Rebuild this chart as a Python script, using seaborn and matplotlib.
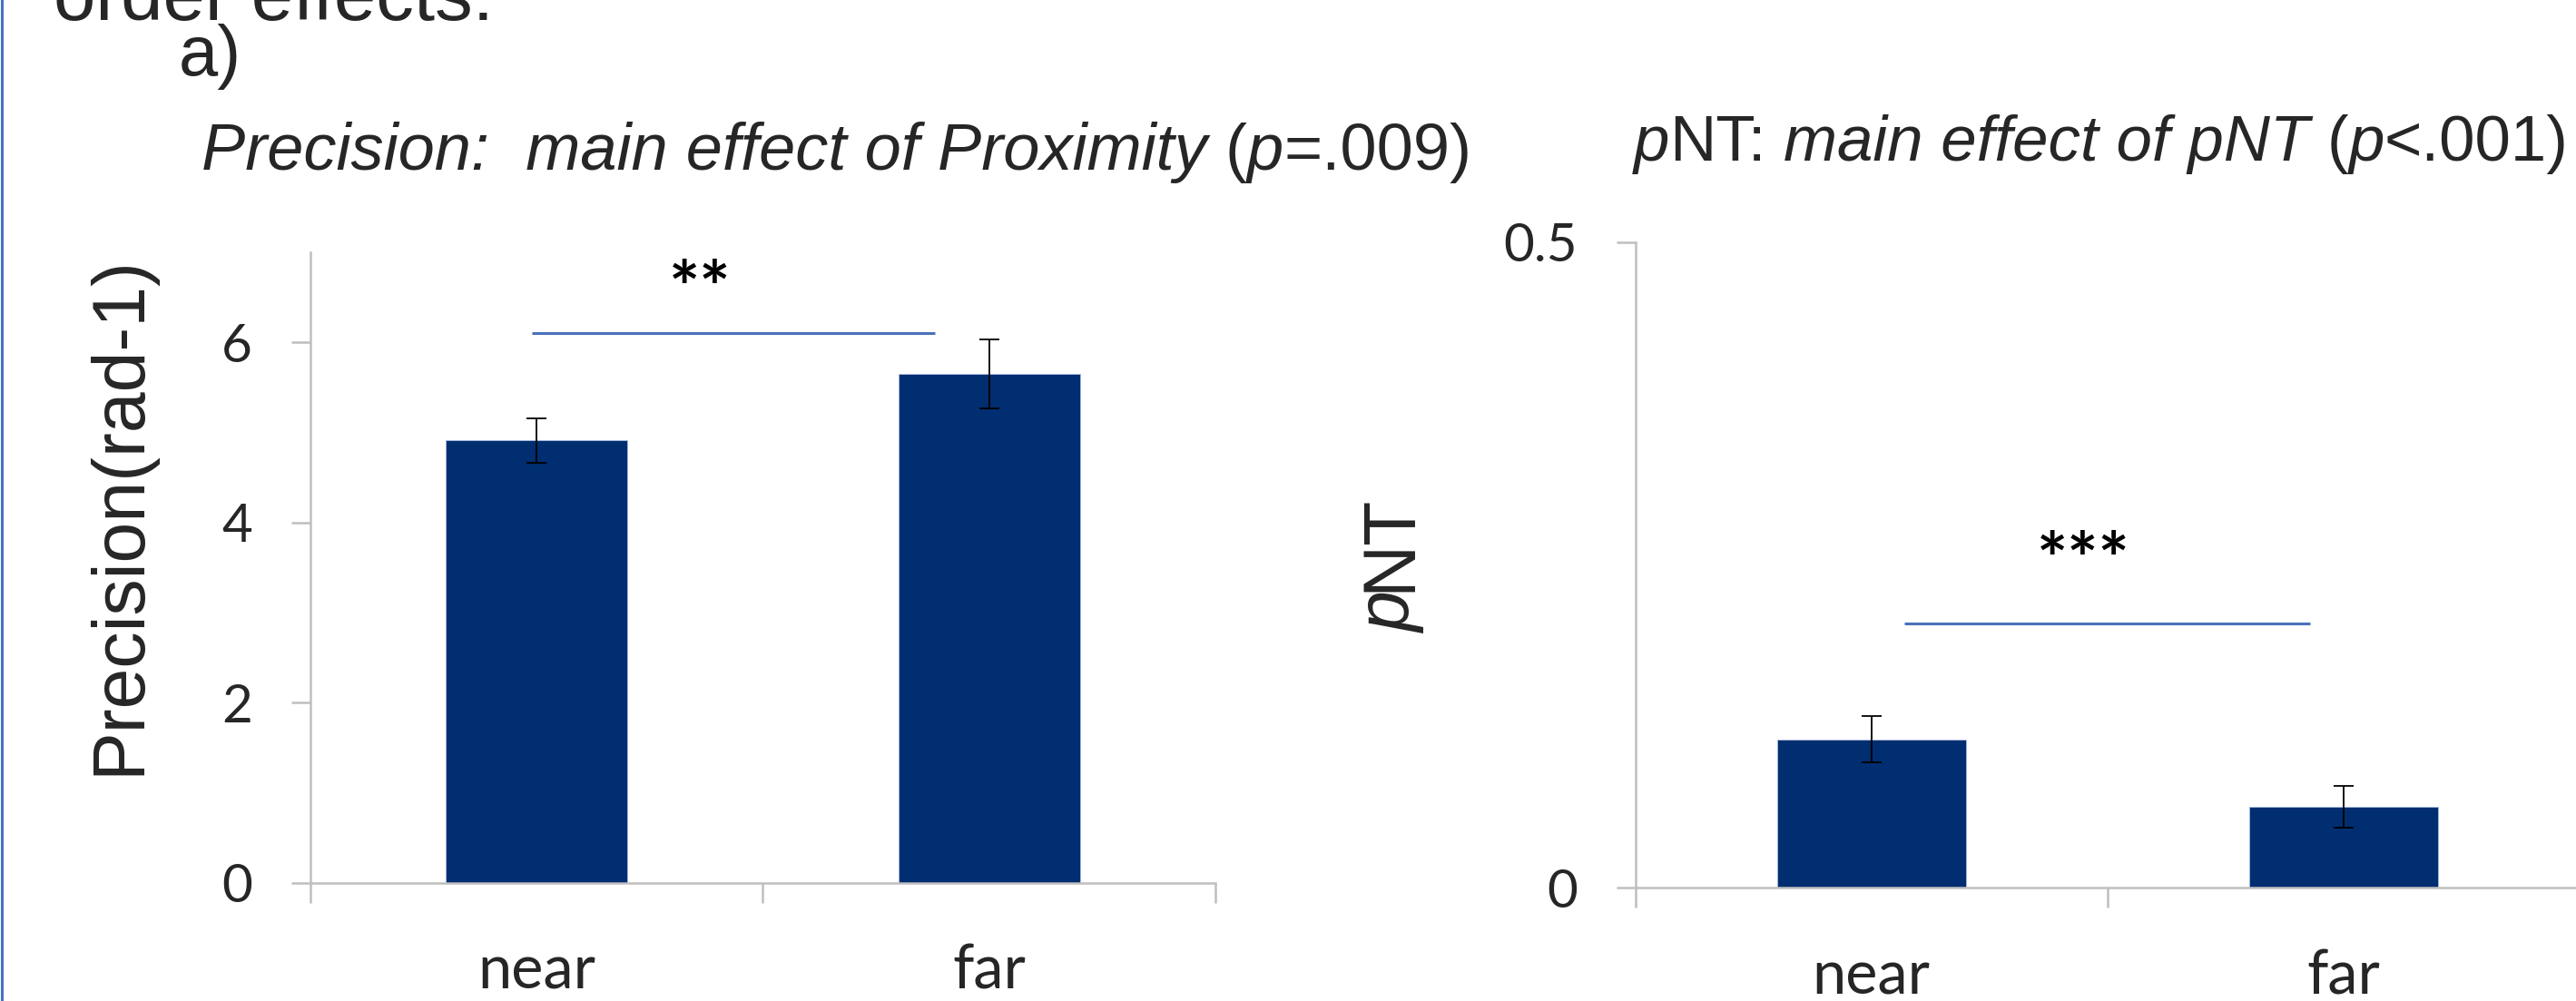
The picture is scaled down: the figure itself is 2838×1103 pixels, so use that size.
import numpy as np
import pandas as pd
import matplotlib
matplotlib.use("Agg")
import matplotlib.pyplot as plt
import seaborn as sns
from matplotlib.lines import Line2D

# values
categories = ["near", "far"]
precision_mean = [4.91, 5.65]
precision_sem = [0.25, 0.38]
pnt_mean = [0.115, 0.063]
pnt_sem = [0.018, 0.016]

# significance brackets: (x start, x end, height) and the stars (text, x, baseline)
precision_sig = (-0.01, 0.88, 6.10)
precision_stars = ("**", 0.36, 6.31)
pnt_sig = (0.07, 0.93, 0.205)
pnt_stars = ("***", 0.45, 0.234)

precision_ticks = [0, 2, 4, 6]
pnt_ticks = [0, 0.5]
pnt_ticklabels = ["0", "0.5"]

BAR = "#002E70"
AXIS = "#BFBFBF"
SIG = "#4A72B8"
TITLE_FONT = ["Liberation Sans", "DejaVu Sans"]
TICK_FONT = ["Lato", "DejaVu Sans"]

sns.set_style("white")
plt.rcParams["font.family"] = TITLE_FONT


def style_axis(ax, ylim, ticks, ticklabels=None):
    ax.set_xlim(-0.5, 1.5)
    ax.set_ylim(*ylim)
    ax.set_yticks(ticks)
    if ticklabels is not None:
        ax.set_yticklabels(ticklabels)
    ax.set_xticks([0, 1])
    ax.set_xticklabels(categories)
    ax.set_xticks([-0.5, 0.5, 1.5], minor=True)
    for side in ["top", "right"]:
        ax.spines[side].set_visible(False)
    for side in ["left", "bottom"]:
        ax.spines[side].set_color(AXIS)
        ax.spines[side].set_linewidth(1.8)
    ax.tick_params(axis="y", which="major", direction="out", length=15, width=1.8,
                   color=AXIS, pad=31, labelsize=42, left=True)
    ax.tick_params(axis="x", which="major", length=0, pad=48, labelsize=48)
    ax.tick_params(axis="x", which="minor", direction="out", length=16, width=1.8,
                   color=AXIS, bottom=True)
    for lab in ax.get_xticklabels() + ax.get_yticklabels():
        lab.set_family(TICK_FONT)
    ax.set_xlabel("")


def bar_panel(ax, means, sems, name):
    df = pd.DataFrame({"proximity": categories, name: means})
    sns.barplot(data=df, x="proximity", y=name, ax=ax, color=BAR, width=0.4,
                errorbar=None, saturation=1, edgecolor="#A9BCE0", linewidth=0.6)
    ax.errorbar(x=np.arange(len(categories)), y=means, yerr=sems, fmt="none",
                ecolor="black", elinewidth=1.3, capsize=8, capthick=1.3)


def sig_mark(ax, line, stars):
    x0, x1, h = line
    ax.plot([x0, x1], [h, h], color=SIG, lw=2.2, solid_capstyle="butt")
    ax.text(stars[1], stars[2], stars[0], ha="center", va="baseline",
            fontsize=58, family=TICK_FONT, fontweight="bold", color="black")


def rich_text(fig, x, y, parts, size):
    # draw a line of text made of italic / normal pieces, side by side
    renderer = fig.canvas.get_renderer()
    W = fig.bbox.width
    px = x * W
    for txt, style in parts:
        lead = len(txt) - len(txt.lstrip(" "))
        trail = len(txt) - len(txt.rstrip(" "))
        core = txt.strip(" ")
        a = fig.text(0, 0, "a a", fontsize=size, style=style)
        b = fig.text(0, 0, "aa", fontsize=size, style=style)
        sp = a.get_window_extent(renderer).width - b.get_window_extent(renderer).width
        a.remove()
        b.remove()
        px += lead * sp
        t = fig.text(px / W, y, core, fontsize=size, style=style, va="baseline", ha="left")
        px = t.get_window_extent(renderer).x1 + trail * sp


fig = plt.figure(figsize=(28.38, 11.03), dpi=100)
ax1 = fig.add_axes([0.1204, 0.118, 0.3515, 0.630])
ax2 = fig.add_axes([0.6348, 0.1129, 0.3665, 0.6453])

bar_panel(ax1, precision_mean, precision_sem, "precision")
style_axis(ax1, (0, 7), precision_ticks)
sig_mark(ax1, precision_sig, precision_stars)
ax1.set_ylabel("Precision(rad-1)", fontsize=58, rotation_mode="default", va="center")
ax1.yaxis.set_label_coords(-0.210, 0.583)

bar_panel(ax2, pnt_mean, pnt_sem, "pnt")
style_axis(ax2, (0, 0.5), pnt_ticks, pnt_ticklabels)
sig_mark(ax2, pnt_sig, pnt_stars)
ax2.set_ylabel("")

# y label "pNT" with an italic p, reading bottom to top
renderer = fig.canvas.get_renderer()
nt = fig.text(0.540, 0.506, "NT", fontsize=58, rotation=90, ha="center", va="top")
nt_box = nt.get_window_extent(renderer)
fig.text(0.540, nt_box.y0 / fig.bbox.height, "p", fontsize=58, rotation=90,
         style="italic", ha="center", va="top")

# headings
fig.text(0.0208, 0.980, "order effects:", fontsize=60, va="baseline")
fig.text(0.0694, 0.9248, "a)", fontsize=56, va="baseline")
rich_text(fig, 0.0782, 0.8305,
          [("Precision:  main effect of Proximity ", "italic"), ("(", "normal"),
           ("p", "italic"), ("=.009)", "normal")], 52)
rich_text(fig, 0.6340, 0.8395,
          [("p", "italic"), ("NT: ", "normal"), ("main effect of pNT ", "italic"),
           ("(", "normal"), ("p", "italic"), ("<.001)", "normal")], 51)

fig.add_artist(Line2D([0.0006, 0.0006], [0, 1], color="#4472C4", lw=2.2,
                      transform=fig.transFigure))

fig.savefig("out.png", dpi=100)
